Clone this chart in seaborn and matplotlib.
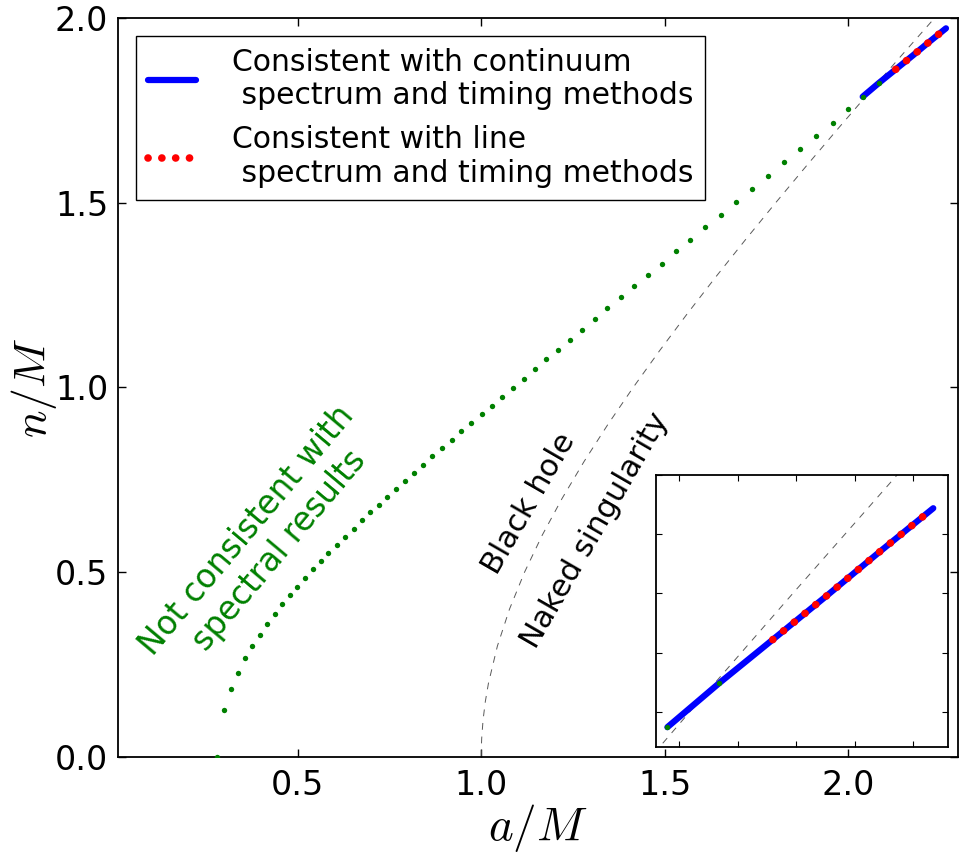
import numpy as np
import pandas as pd
import matplotlib
matplotlib.use("Agg")
import matplotlib.pyplot as plt
import seaborn as sns

# ---- data ----
# sampled points (a/M, n/M) not consistent with spectral results
green_a = [0.281, 0.298, 0.318, 0.337, 0.357, 0.376, 0.396, 0.417, 0.437, 0.458,
           0.478, 0.499, 0.520, 0.541, 0.562, 0.583, 0.606, 0.629, 0.652, 0.674,
           0.697, 0.720, 0.744, 0.767, 0.792, 0.817, 0.841, 0.867, 0.893, 0.920,
           0.946, 0.972, 1.001, 1.029, 1.057, 1.086, 1.116, 1.147, 1.177, 1.209,
           1.243, 1.276, 1.310, 1.344, 1.380, 1.416, 1.454, 1.492, 1.531, 1.570,
           1.611, 1.653, 1.694, 1.737, 1.781, 1.825, 1.870, 1.913, 1.958, 2.001,
           2.040, 2.084]
green_n = [0.000, 0.127, 0.184, 0.228, 0.267, 0.299, 0.329, 0.359, 0.386, 0.413,
           0.438, 0.461, 0.485, 0.508, 0.530, 0.553, 0.575, 0.596, 0.618, 0.641,
           0.662, 0.683, 0.704, 0.726, 0.748, 0.769, 0.791, 0.815, 0.837, 0.859,
           0.881, 0.904, 0.928, 0.951, 0.975, 0.999, 1.024, 1.050, 1.076, 1.102,
           1.129, 1.156, 1.185, 1.214, 1.244, 1.274, 1.304, 1.335, 1.368, 1.400,
           1.433, 1.468, 1.502, 1.537, 1.573, 1.609, 1.645, 1.681, 1.717, 1.753,
           1.787, 1.824]

# consistent with continuum spectrum and timing methods
cont_a = [2.040, 2.084, 2.130, 2.176, 2.221, 2.267]
cont_n = [1.787, 1.824, 1.861, 1.898, 1.935, 1.972]

# consistent with line spectrum and timing methods
line_a = [2.130, 2.176, 2.221, 2.267]
line_n = [1.861, 1.898, 1.935, 1.972]

# black hole / naked singularity boundary
bound_n = [0.0, 0.02, 0.05, 0.1, 0.15, 0.2, 0.3, 0.4, 0.5, 0.6, 0.7, 0.8, 0.9,
           1.0, 1.1, 1.2, 1.3, 1.4, 1.5, 1.6, 1.7, 1.8, 1.9, 2.0, 2.1]
bound_a = [1.0, 1.0002, 1.00125, 1.00499, 1.01119, 1.01980, 1.04403, 1.07703,
           1.11803, 1.16619, 1.22066, 1.28062, 1.34536, 1.41421, 1.48661,
           1.56205, 1.64012, 1.72047, 1.80278, 1.88680, 1.97231, 2.05913,
           2.14709, 2.23607, 2.32594]

main_xticks = [0.5, 1.0, 1.5, 2.0]
main_yticks = [0.0, 0.5, 1.0, 1.5, 2.0]
inset_xticks = [2.05, 2.10, 2.15, 2.20, 2.25]
inset_yticks = [1.80, 1.85, 1.90, 1.95, 2.00]

label_cont = "Consistent with continuum\n spectrum and timing methods"
label_line = "Consistent with line\n spectrum and timing methods"

# ---- style ----
sns.set_style("ticks")
plt.rcParams["font.family"] = ["DejaVu Sans"]
plt.rcParams["mathtext.fontset"] = "cm"
plt.rcParams["text.color"] = "black"
plt.rcParams["axes.labelcolor"] = "black"
plt.rcParams["xtick.color"] = "black"
plt.rcParams["ytick.color"] = "black"

green_df = pd.DataFrame({"a": green_a, "n": green_n})
cont_df = pd.DataFrame({"a": cont_a, "n": cont_n})
line_df = pd.DataFrame({"a": line_a, "n": line_n})
bound_df = pd.DataFrame({"a": bound_a, "n": bound_n})

fig = plt.figure(figsize=(9.6, 8.56), dpi=100)
ax = fig.add_axes([0.123, 0.1157, 0.875, 0.8633])
axin = fig.add_axes([0.683, 0.127, 0.305, 0.318])

GREEN = "#008000"


def draw(a, legend):
    sns.lineplot(data=bound_df, x="a", y="n", ax=a, sort=False, color="0.35",
                 lw=0.7, ls=(0, (7, 7)), zorder=1, label="_nolegend_")
    sns.lineplot(data=cont_df, x="a", y="n", ax=a, sort=False, color="blue",
                 lw=4.5, zorder=2, label=label_cont if legend else "_nolegend_")
    sns.scatterplot(data=green_df, x="a", y="n", ax=a, color=GREEN, s=15,
                    linewidth=0, zorder=3, label="_nolegend_")
    sns.lineplot(data=line_df, x="a", y="n", ax=a, sort=False, color="red",
                 lw=5.5, ls=(0, (0.01, 1.8)), dash_capstyle="round", zorder=4,
                 label=label_line if legend else "_nolegend_")


draw(ax, True)
draw(axin, False)

ax.set_xlim(0.01, 2.3)
ax.set_ylim(0.0, 2.0)
ax.set_xticks(main_xticks)
ax.set_yticks(main_yticks)
ax.set_xticklabels([f"{v:.1f}" for v in main_xticks])
ax.set_yticklabels([f"{v:.1f}" for v in main_yticks])
ax.tick_params(direction="in", top=True, right=True, length=6, width=1,
               labelsize=24, color="black")
ax.tick_params(axis="x", pad=9)
ax.tick_params(axis="y", pad=7)
ax.set_xlabel("$a/M$", fontsize=34, labelpad=0)
ax.set_ylabel("$n/M$", fontsize=33)
ax.yaxis.set_label_coords(-0.07, 0.5)
for sp in ax.spines.values():
    sp.set_color("black")
    sp.set_linewidth(1.3)

axin.set_xlim(2.03, 2.28)
axin.set_ylim(1.77, 2.0)
axin.set_xticks(inset_xticks)
axin.set_yticks(inset_yticks)
axin.set_xticklabels([])
axin.set_yticklabels([])
axin.set_xlabel("")
axin.set_ylabel("")
axin.tick_params(direction="in", top=True, right=True, length=4, width=0.8,
                 color="black")
axin.set_facecolor("white")
for sp in axin.spines.values():
    sp.set_color("black")
    sp.set_linewidth(1.3)

leg = ax.legend(loc="upper left", fontsize=21.5, frameon=True, fancybox=False,
                framealpha=1, edgecolor="black", handlelength=1.6,
                handletextpad=1.2, borderaxespad=0.6, labelspacing=0.5)
leg.get_frame().set_linewidth(1.0)

ax.text(0.40, 0.58, "Not consistent with\n spectral results", color=GREEN,
        fontsize=23.5, rotation=50, ha="center", va="center")
ax.text(1.131, 0.687, "Black hole", color="black", fontsize=22, rotation=60,
        ha="center", va="center")
ax.text(1.311, 0.614, "Naked singularity", color="black", fontsize=22,
        rotation=60, ha="center", va="center")

fig.savefig("out.png", dpi=100)
